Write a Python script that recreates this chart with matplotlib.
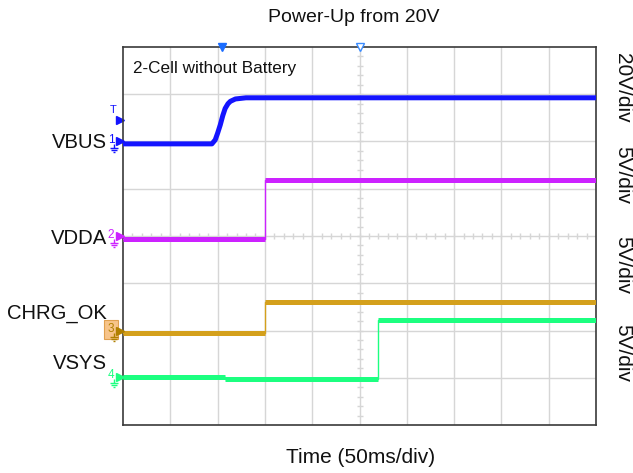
import matplotlib
matplotlib.use("Agg")
import matplotlib.pyplot as plt
from matplotlib.path import Path
import matplotlib.transforms as mtransforms
import numpy as np

plt.rcParams['font.family'] = ['Liberation Sans', 'DejaVu Sans']

# ---------------- data (time in ms, voltages in V) ----------------
title = "Power-Up from 20V"
xlabel = "Time (50ms/div)"
note = "2-Cell without Battery"
channels = ["VBUS", "VDDA", "CHRG_OK", "VSYS"]
scales_label = ["20V/div", "5V/div", "5V/div", "5V/div"]
volts_per_div = [20, 5, 5, 5]
ms_per_div = 50

vbus_t = [0, 94, 97.5, 100, 102.8, 105.5, 108, 111, 113.5, 118.8, 130, 500]
vbus_v = [0, 0, 1.7, 4.5, 8.0, 12.0, 15.0, 17.0, 18.0, 19.0, 19.5, 19.5]

vdda_t = [0, 150.5, 150.5, 500]
vdda_v = [0, 0, 6.2, 6.2]

chrg_t = [0, 150.5, 150.5, 500]
chrg_v = [0, 0, 3.3, 3.3]

vsys_t = [0, 108, 108, 269.5, 269.5, 500]
vsys_v = [0.2, 0.2, 0.0, 0.0, 6.3, 6.3]

# ground reference positions (in divisions from bottom)
ground_div = [5.95, 3.94, 1.95, 0.97]

colors = ["#1414ff", "#cc22ff", "#d4a01c", "#1cff80"]

# ---------------- figure ----------------
fig = plt.figure(figsize=(6.33, 4.73), dpi=100)
ax = fig.add_axes([123 / 633, 1 - 425 / 473, (596 - 123) / 633, (425 - 47) / 473])
ax.set_xlim(0, 10 * ms_per_div)
ax.set_ylim(0, 8)
ax.set_xticks([])
ax.set_yticks([])
for s in ax.spines.values():
    s.set_color("#3a3a3a")
    s.set_linewidth(1.2)

grid_c = "#d6d6d6"
for i in range(1, 10):
    ax.axvline(i * ms_per_div, color=grid_c, lw=1.0, zorder=0)
for j in range(1, 8):
    ax.axhline(j, color=grid_c, lw=1.0, zorder=0)
# minor ticks on centre lines
yt = np.arange(0.2, 8, 0.2)
ax.plot(np.full_like(yt, 5 * ms_per_div), yt, ls="none", marker="_", ms=5,
        mew=1.0, color=grid_c, zorder=0)
xt = np.arange(0.2, 10, 0.2) * ms_per_div
ax.plot(xt, np.full_like(xt, 4.0), ls="none", marker="|", ms=5,
        mew=1.0, color=grid_c, zorder=0)

series = [(vbus_t, vbus_v), (vdda_t, vdda_v), (chrg_t, chrg_v), (vsys_t, vsys_v)]
for k, (t, v) in enumerate(series):
    t = np.asarray(t, float)
    y = ground_div[k] + np.asarray(v, float) / volts_per_div[k]
    if k == 0:
        ax.plot(t, y, color=colors[k], lw=3.6, solid_capstyle="butt", zorder=3)
    else:
        ax.plot(t, y, color=colors[k], lw=1.0, zorder=3)
        for a in range(len(t) - 1):
            if y[a] == y[a + 1]:
                ax.plot(t[a:a + 2], y[a:a + 2], color=colors[k], lw=3.6,
                        solid_capstyle="butt", zorder=3)

# note text
ax.text(0.022, 0.942, note, transform=ax.transAxes, fontsize=12.3,
        ha="left", va="center", color="#111111")

# ---------------- channel markers on the left ----------------
trans = mtransforms.blended_transform_factory(ax.transAxes, ax.transData)
gnd_path = Path([(0, 0.2), (0, -0.6), (-0.8, -0.6), (0.8, -0.6), (-0.5, -0.95),
                 (0.5, -0.95), (-0.2, -1.3), (0.2, -1.3)],
                [Path.MOVETO, Path.LINETO, Path.MOVETO, Path.LINETO,
                 Path.MOVETO, Path.LINETO, Path.MOVETO, Path.LINETO])
mark_c = ["#1414ff", "#cc22ff", "#b08000", "#1cff80"]
for k in range(4):
    g = ground_div[k]
    ax.plot([-0.007], [g + 0.05], transform=trans, marker=">", ms=6,
            color=mark_c[k], clip_on=False, zorder=5)
    ax.plot([-0.019], [g - 0.02], transform=trans, marker=gnd_path, ms=10,
            mew=1.0, color=mark_c[k], clip_on=False, zorder=5, ls="none")
    kw = {}
    if k == 2:
        kw = dict(bbox=dict(boxstyle="square,pad=0.3", fc="#f7c48a",
                            ec="#e0a050", lw=0.8))
    ax.text(-0.025, g + 0.08, str(k + 1), transform=trans, fontsize=8.5,
            ha="center", va="center", color=mark_c[k], clip_on=False, **kw)

# trigger level marker for VBUS
ax.plot([-0.007], [6.455], transform=trans, marker=">", ms=6,
        color=colors[0], clip_on=False)
ax.text(-0.02, 6.67, "T", transform=trans, fontsize=8, ha="center",
        va="center", color=colors[0], clip_on=False)

# top markers
trans_top = mtransforms.blended_transform_factory(ax.transData, ax.transAxes)
ax.plot([104.5], [1.0], transform=trans_top, marker="v", ms=6,
        color="#1a6cff", clip_on=False, zorder=6)
ax.plot([250], [1.0], transform=trans_top, marker="v", ms=6, mfc="white",
        mec="#3a8cff", clip_on=False, zorder=6)

# ---------------- labels ----------------
label_y_px = [142, 238, 313, 363]
for name, ypx in zip(channels, label_y_px):
    fig.text(107 / 633, 1 - ypx / 473, name, fontsize=14.6, ha="right",
             va="center", color="#111111")

right_y_px = [88, 175, 265, 353]
for lab, ypx in zip(scales_label, right_y_px):
    fig.text(623 / 633, 1 - ypx / 473, lab, fontsize=15, rotation=270,
             ha="center", va="center", color="#111111")

fig.text(354 / 633, 1 - 18 / 473, title, fontsize=14, ha="center",
         va="center", color="#111111")
fig.text(361 / 633, 1 - 457 / 473, xlabel, fontsize=15, ha="center",
         va="center", color="#111111")

fig.savefig("out.png", dpi=100, facecolor="white")
